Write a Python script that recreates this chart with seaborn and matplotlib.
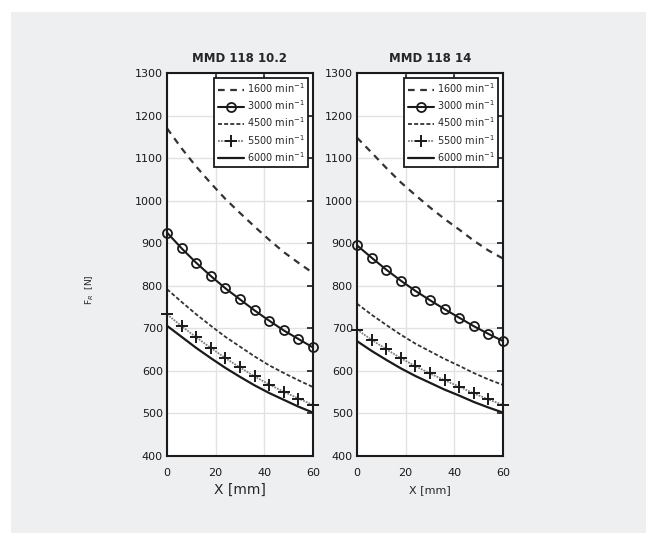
import numpy as np
import pandas as pd
import seaborn as sns
import matplotlib.pyplot as plt
from matplotlib.patches import Rectangle

x_mm = [0, 6, 12, 18, 24, 30, 36, 42, 48, 54, 60]
speeds = ["1600", "3000", "4500", "5500", "6000"]
titles = ["MMD 118 10.2", "MMD 118 14"]

# panel 1: MMD 118 10.2
p1_1600 = [1170, 1123, 1080, 1041, 1004, 971, 939, 908, 879, 854, 830]
p1_3000 = [925, 888, 854, 823, 794, 768, 742, 718, 695, 675, 655]
p1_4500 = [792, 762, 733, 706, 680, 657, 634, 613, 595, 578, 562]
p1_5500 = [733, 705, 679, 654, 630, 608, 587, 568, 551, 535, 520]
p1_6000 = [706, 680, 654, 630, 607, 586, 566, 548, 532, 516, 502]

# panel 2: MMD 118 14
p2_1600 = [1148, 1113, 1077, 1043, 1013, 984, 957, 932, 906, 883, 864]
p2_3000 = [895, 866, 838, 812, 788, 766, 745, 725, 705, 687, 670]
p2_4500 = [758, 732, 708, 685, 664, 646, 628, 612, 595, 580, 567]
p2_5500 = [697, 673, 651, 630, 611, 594, 578, 563, 547, 533, 520]
p2_6000 = [670, 647, 626, 606, 588, 572, 556, 542, 527, 514, 502]

panels = [
    [p1_1600, p1_3000, p1_4500, p1_5500, p1_6000],
    [p2_1600, p2_3000, p2_4500, p2_5500, p2_6000],
]

styles = {
    "1600": dict(color="#333333", lw=1.6, linestyle=(0, (3, 2.5))),
    "3000": dict(color="#1a1a1a", lw=1.5, marker="o", ms=6.5, mfc="none", mew=1.3,
                 mec="#1a1a1a", clip_on=False),
    "4500": dict(color="#333333", lw=1.3, linestyle=(0, (2.2, 1.2))),
    "5500": dict(color="#808080", lw=1.3, linestyle=(0, (1, 0.6)), marker="+", ms=9,
                 mec="#1a1a1a", mew=1.4, clip_on=False),
    "6000": dict(color="#1a1a1a", lw=1.6),
}

sns.set_theme(style="white")
plt.rcParams["font.family"] = ["DejaVu Sans"]

fig = plt.figure(figsize=(6.46, 5.33), dpi=100)
fig.patches.append(Rectangle((11 / 646, 0), 1, 1 - 12 / 533, transform=fig.transFigure,
                             facecolor="#eeeff1", edgecolor="none", zorder=-10))

lefts = [167 / 646, 357 / 646]
axes = []
for k in range(2):
    ax = fig.add_axes([lefts[k], 1 - 456 / 533, 146 / 646, 383 / 533])
    ax.set_zorder(5)
    ax.set_facecolor("white")
    for name, vals in zip(speeds, panels[k]):
        df = pd.DataFrame({"x": x_mm, "F": vals})
        sns.lineplot(data=df, x="x", y="F", ax=ax, label=name + " min$^{-1}$",
                     **styles[name])
    ax.set_xlim(0, 60)
    ax.set_ylim(400, 1300)
    ax.set_xticks([0, 20, 40, 60])
    ax.set_yticks(np.arange(400, 1301, 100))
    ax.grid(True, color="#e2e2e2", lw=1)
    ax.tick_params(direction="in", length=4, width=1.2, top=True, right=True,
                   labelsize=8, colors="#1a1a1a", pad=3)
    ax.tick_params(axis="x", pad=9)
    for sp in ax.spines.values():
        sp.set_color("#1a1a1a")
        sp.set_linewidth(1.5)
    ax.set_title(titles[k], fontsize=8.5, fontweight="bold", pad=8)
    ax.set_ylabel("")
    leg = ax.legend(loc="upper right", fontsize=7, frameon=True, fancybox=False,
                    edgecolor="#1a1a1a", framealpha=1, handlelength=2.7,
                    handletextpad=0.3, borderpad=0.35, labelspacing=0.35,
                    borderaxespad=0.5)
    leg.get_frame().set_linewidth(1.3)
    axes.append(ax)

axes[0].set_xlabel("X [mm]", fontsize=10, labelpad=3)
axes[1].set_xlabel("X [mm]", fontsize=8, labelpad=5)
fig.text(90 / 646, 1 - 290 / 533, "F$_R$  [N]", rotation=90, fontsize=6.5,
         ha="center", va="center")

plt.savefig("out.png", dpi=100)
